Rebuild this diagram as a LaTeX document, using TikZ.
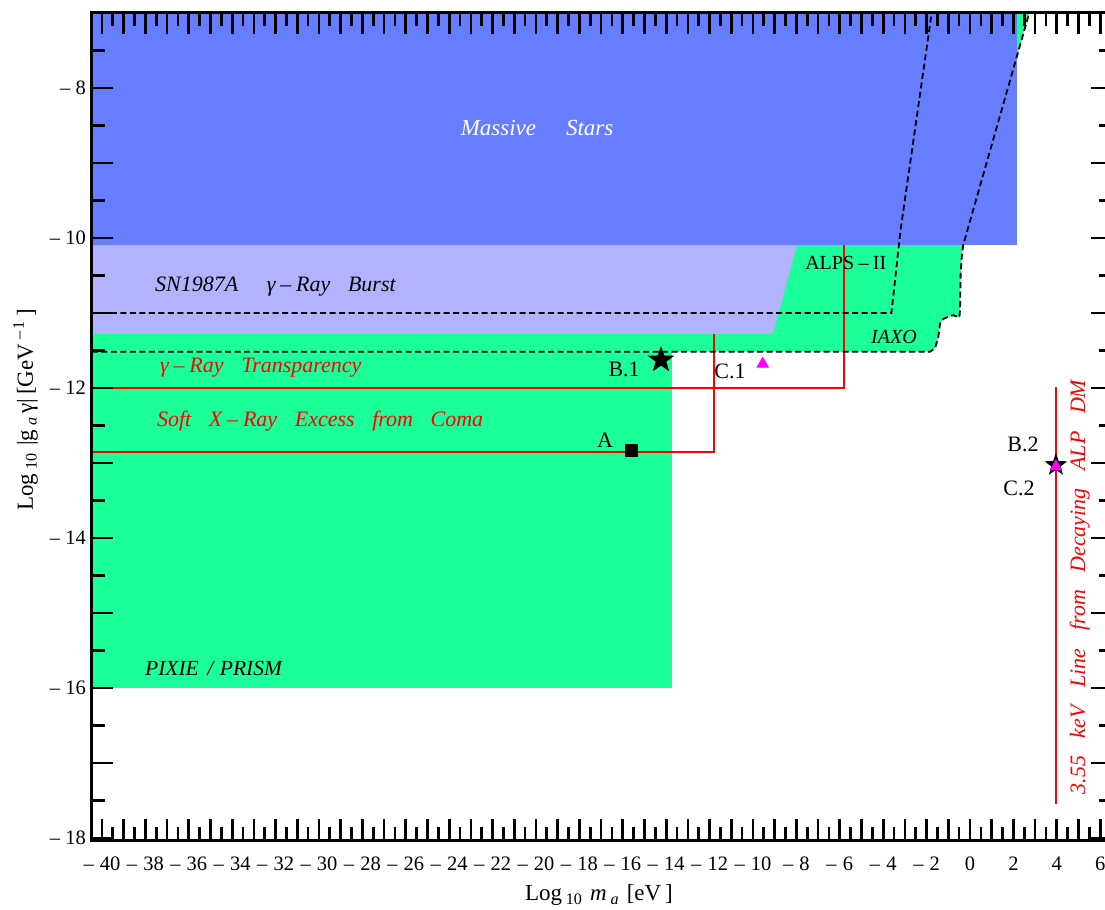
\documentclass[tikz,border=0pt]{standalone}
\usepackage{fontspec}
\setmainfont{Liberation Serif}
\usetikzlibrary{shapes.geometric}

\definecolor{stars}{RGB}{102,125,255}
\definecolor{burst}{RGB}{178,178,255}
\definecolor{iaxo}{RGB}{26,255,153}
\definecolor{pointmag}{RGB}{255,0,255}

\newcommand{\wordgap}{\hspace{0.8em}}
\newcommand{\rminus}{\hspace{0.22em}–\hspace{0.22em}}

\tikzset{
	tickmark/.style={line width=2.7pt},
	ticklabel/.style={font=\fontsize{20.5}{24}\selectfont, inner sep=0pt},
	boundlabel/.style={font=\fontsize{22}{26}\selectfont\itshape, inner sep=0pt, anchor=base west},
	pointlabel/.style={font=\fontsize{22}{26}\selectfont, inner sep=0pt, anchor=base},
	boundline/.style={black, line width=1.8pt, dash pattern=on 6pt off 3.5pt},
	hintline/.style={red, line width=2pt},
	starmark/.style={star, star points=5, star point ratio=2.5, fill=black, inner sep=0pt},
	trimark/.style={regular polygon, regular polygon sides=3, fill=pointmag, inner sep=0pt, minimum size=15pt},
}

\begin{document}
\begin{tikzpicture}[x=21.7pt,y=75pt]

		\useasboundingbox (-44.70,-18.947) rectangle (6.221,-6.827);

		\fill[iaxo] (-40.46,-11.516) -- (-1.84,-11.516) -- (-1.61,-11.47) -- (-1.46,-11.32) -- (-1.38,-11.14)
			-- (-1.23,-11.08) -- (-0.92,-11.04) -- (-0.77,-11.03) -- (-0.49,-11.06) -- (-0.46,-10.96)
			-- (-0.43,-10.47) -- (-0.38,-10.25) -- (-0.31,-10.09) -- (2.73,-7) -- (-40.46,-7) -- cycle;
		\fill[iaxo] (-40.46,-16) rectangle (-13.72,-11.516);
		\fill[stars] (-40.46,-10.1) rectangle (2.17,-7);
		\fill[burst] (-40.46,-10.1) -- (-7.97,-10.1) -- (-9.08,-11.28) -- (-40.46,-11.28) -- cycle;

		\draw[hintline] (-40.46,-12) -- (-5.79,-12) -- (-5.79,-10.1);
		\draw[hintline] (-40.46,-12.86) -- (-11.78,-12.86) -- (-11.78,-11.28);
		\draw[hintline] (3.96,-11.99) -- (3.96,-17.55);

		\draw[boundline] (-40.46,-11) -- (-3.62,-11) -- (-3.20,-9.893) -- (-1.765,-7);
		\draw[boundline] (-40.46,-11.516) -- (-1.84,-11.516) -- (-1.61,-11.47) -- (-1.46,-11.32) -- (-1.38,-11.14)
			-- (-1.23,-11.08) -- (-0.92,-11.04) -- (-0.77,-11.03) -- (-0.49,-11.06) -- (-0.46,-10.96)
			-- (-0.43,-10.47) -- (-0.38,-10.25) -- (-0.31,-10.09) -- (2.73,-7);

		\node[white, font=\fontsize{23}{27}\selectfont\itshape, inner sep=0pt, anchor=base] (massive) at (-19.95,-8.627) {Massive\hspace{1.3em}Stars};
		\node[boundlabel] (sn) at (-37.56,-10.72) {SN1987A\hspace{1.3em}γ\rminus Ray\wordgap Burst};
		\node[boundlabel, red] (transp) at (-37.33,-11.80) {γ\rminus Ray\wordgap Transparency};
		\node[boundlabel, red] (coma) at (-37.47,-12.52) {Soft\wordgap X\rminus Ray\wordgap Excess\wordgap from\wordgap Coma};
		\node[boundlabel, font=\fontsize{21.5}{26}\selectfont\itshape] (pixie) at (-38.02,-15.827) {PIXIE\hspace{0.4em}/\hspace{0.3em}PRISM};
		\node[boundlabel, font=\fontsize{20}{24}\selectfont] (alps) at (-7.60,-10.417) {ALPS\rminus II};
		\node[boundlabel, font=\fontsize{20}{24}\selectfont\itshape] (iaxolabel) at (-4.56,-11.413) {IAXO};
		\node[boundlabel, red, anchor=base, rotate=90] (line) at (5.30,-14.653)
			{3.55\wordgap keV\wordgap Line\wordgap from\wordgap Decaying\wordgap ALP\wordgap DM};

		\node[rectangle, fill=black, minimum size=13pt, inner sep=0pt] (A) at (-15.62,-12.84) {};
		\node[starmark, minimum size=28pt] (B1) at (-14.24,-11.627) {};
		\node[trimark] (C1) at (-9.55,-11.68) {};
		\node[starmark, minimum size=24pt] (B2) at (3.96,-13.027) {};
		\node[trimark, minimum size=15pt] (C2) at (3.96,-13.05) {};

		\node[pointlabel] (labA) at (-16.82,-12.8) {A};
		\node[pointlabel] (labB1) at (-15.94,-11.853) {B.1};
		\node[pointlabel] (labC1) at (-11.06,-11.867) {C.1};
		\node[pointlabel] (labB2) at (2.44,-12.853) {B.2};
		\node[pointlabel] (labC2) at (2.26,-13.44) {C.2};

		\draw[line width=3pt] (6.54,-7) -- (-40.46,-7) -- (-40.46,-18.027) -- (6.54,-18.027);
		\foreach \x in {-40,...,6} {
			\draw[tickmark] (\x,-7) -- ++(0,-21pt);
			\draw[tickmark] (\x,-18.027) -- ++(0,21pt);
		}
		\foreach \x in {-39.5,-38.5,...,6.5} {
			\draw[tickmark] (\x,-7) -- ++(0,-13pt);
			\draw[tickmark] (\x,-18.027) -- ++(0,13pt);
		}
		\foreach \y in {-18,...,-7} {
			\draw[tickmark] (-40.46,\y) -- ++(21pt,0);
			\draw[tickmark] (6.54,\y) -- ++(-21pt,0);
		}
		\foreach \y in {-17.5,-16.5,...,-7.5} {
			\draw[tickmark] (-40.46,\y) -- ++(13pt,0);
			\draw[tickmark] (6.54,\y) -- ++(-13pt,0);
		}

		\foreach \y in {8,10,...,18}
			\node[ticklabel, anchor=east, xshift=-6pt] (ylab\y) at (-40.46,-\y) {–\hspace{0.25em}\y};
		\foreach \x in {40,38,...,2}
			\node[ticklabel, anchor=base] (xlabm\x) at (-\x,-18.427) {–\hspace{0.3em}\x};
		\foreach \x in {0,2,4,6}
			\node[ticklabel, anchor=base] (xlab\x) at (\x,-18.427) {\x};

		\node[font=\fontsize{23}{27}\selectfont, inner sep=0pt, anchor=base] (xtitle) at (-17.10,-18.84)
			{Log\,\textsubscript{10}\,\,\textit{m}\,\textsubscript{\textit{a}}\,\,[eV\,]};
		\node[font=\fontsize{23}{27}\selectfont, inner sep=0pt, anchor=base, rotate=90] (ytitle) at (-43.18,-12.293)
			{Log\,\textsubscript{10}\,\,|g\,\textsubscript{\textit{a}}\,γ|\,[GeV\,\textsuperscript{–\,1}\,]};

		\end{tikzpicture}
\end{document}
